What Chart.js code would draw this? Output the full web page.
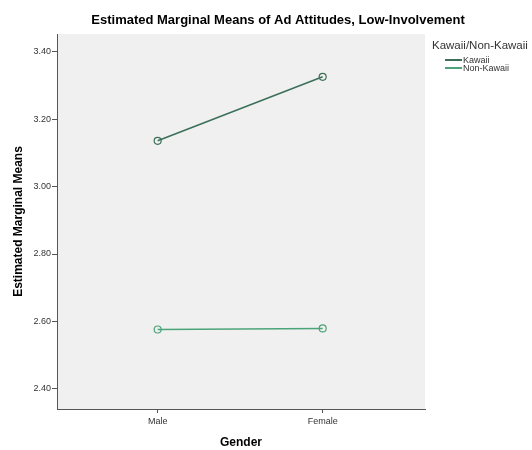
<!DOCTYPE html>
<html><head><meta charset="utf-8">
<script src="https://cdn.jsdelivr.net/npm/chart.js@4/dist/chart.umd.min.js"></script>
<style>html,body{margin:0;padding:0;background:#fff}#w{width:532px;height:450px;position:relative}</style>
</head><body><div id="w"><canvas id="c" width="532" height="450"></canvas></div>
<script>
const genders = ['Male', 'Female'];
const kawaii = [3.136, 3.326];
const nonKawaii = [2.576, 2.579];
const yTicks = [2.40, 2.60, 2.80, 3.00, 3.20, 3.40];
const seriesNames = ['Kawaii', 'Non-Kawaii'];
const chartTitle = 'Estimated Marginal Means of Ad Attitudes, Low-Involvement';
const legendTitle = 'Kawaii/Non-Kawaii';
const colors = ['#3b6f59', '#4aa478'];
const FONT = '"Liberation Sans", Arial, sans-serif';

const pts = arr => arr.map((v, i) => ({x: i + 1, y: v}));

const deco = {
  id: 'deco',
  beforeDraw(chart) {
    const {ctx, chartArea: a} = chart;
    ctx.save();
    ctx.fillStyle = '#f0f0f0';
    ctx.fillRect(a.left, a.top, a.right - a.left, a.bottom - a.top);
    ctx.restore();
  },
  afterDraw(chart) {
    const {ctx} = chart;
    ctx.save();
    ctx.fillStyle = '#000';
    ctx.font = 'bold 13px ' + FONT;
    ctx.textAlign = 'center';
    ctx.textBaseline = 'middle';
    ctx.fillText(chartTitle, 278, 20);
    ctx.textAlign = 'left';
    ctx.font = '11.5px ' + FONT;
    ctx.fillStyle = '#333';
    ctx.fillText(legendTitle, 432, 46);
    ctx.font = '9px ' + FONT;
    chart.data.datasets.forEach((ds, i) => {
      const y = 60 + i * 8;
      ctx.strokeStyle = ds.borderColor;
      ctx.lineWidth = 2;
      ctx.beginPath(); ctx.moveTo(445, y); ctx.lineTo(462, y); ctx.stroke();
      ctx.fillStyle = '#333';
      ctx.fillText(ds.label, 463, y + 0.5);
    });
    ctx.restore();
  }
};

new Chart(document.getElementById('c'), {
  type: 'line',
  data: {
    datasets: [
      {label: seriesNames[0], data: pts(kawaii), borderColor: colors[0], backgroundColor: 'rgba(0,0,0,0)', pointBorderColor: colors[0], borderWidth: 1.5, pointRadius: 3.5, pointBorderWidth: 1.2, pointBackgroundColor: 'rgba(0,0,0,0)'},
      {label: seriesNames[1], data: pts(nonKawaii), borderColor: colors[1], backgroundColor: 'rgba(0,0,0,0)', pointBorderColor: colors[1], borderWidth: 1.5, pointRadius: 3.5, pointBorderWidth: 1.2, pointBackgroundColor: 'rgba(0,0,0,0)'}
    ]
  },
  options: {
    responsive: false,
    animation: false,
    layout: {padding: {left: 0, right: 107, top: 34, bottom: 0}},
    plugins: {legend: {display: false}, title: {display: false}, tooltip: {enabled: false}},
    scales: {
      x: {
        type: 'linear', min: 0.39, max: 2.62,
        afterBuildTicks: s => { s.ticks = genders.map((g, i) => ({value: i + 1})); },
        afterFit: s => { s.height = 41; },
        ticks: {callback: v => genders[v - 1] || '', color: '#333', font: {family: FONT, size: 9}, padding: 3, maxRotation: 0, autoSkip: false},
        grid: {drawOnChartArea: false, drawTicks: true, tickLength: 4, color: '#555'},
        border: {color: '#555', width: 1},
        title: {display: true, text: 'Gender', color: '#000', font: {family: FONT, size: 12, weight: 'bold'}, padding: {top: 6, bottom: 0}}
      },
      y: {
        min: 2.34, max: 3.453,
        afterBuildTicks: s => { s.ticks = yTicks.map(v => ({value: v})); },
        afterFit: s => { s.width = 57; },
        ticks: {callback: v => Number(v).toFixed(2), color: '#333', font: {family: FONT, size: 9}, padding: 1},
        grid: {drawOnChartArea: false, drawTicks: true, tickLength: 5, color: '#555'},
        border: {color: '#555', width: 1},
        title: {display: true, text: 'Estimated Marginal Means', color: '#000', font: {family: FONT, size: 12, weight: 'bold'}, padding: {top: 11, bottom: 4}}
      }
    }
  },
  plugins: [deco]
});
</script></body></html>
